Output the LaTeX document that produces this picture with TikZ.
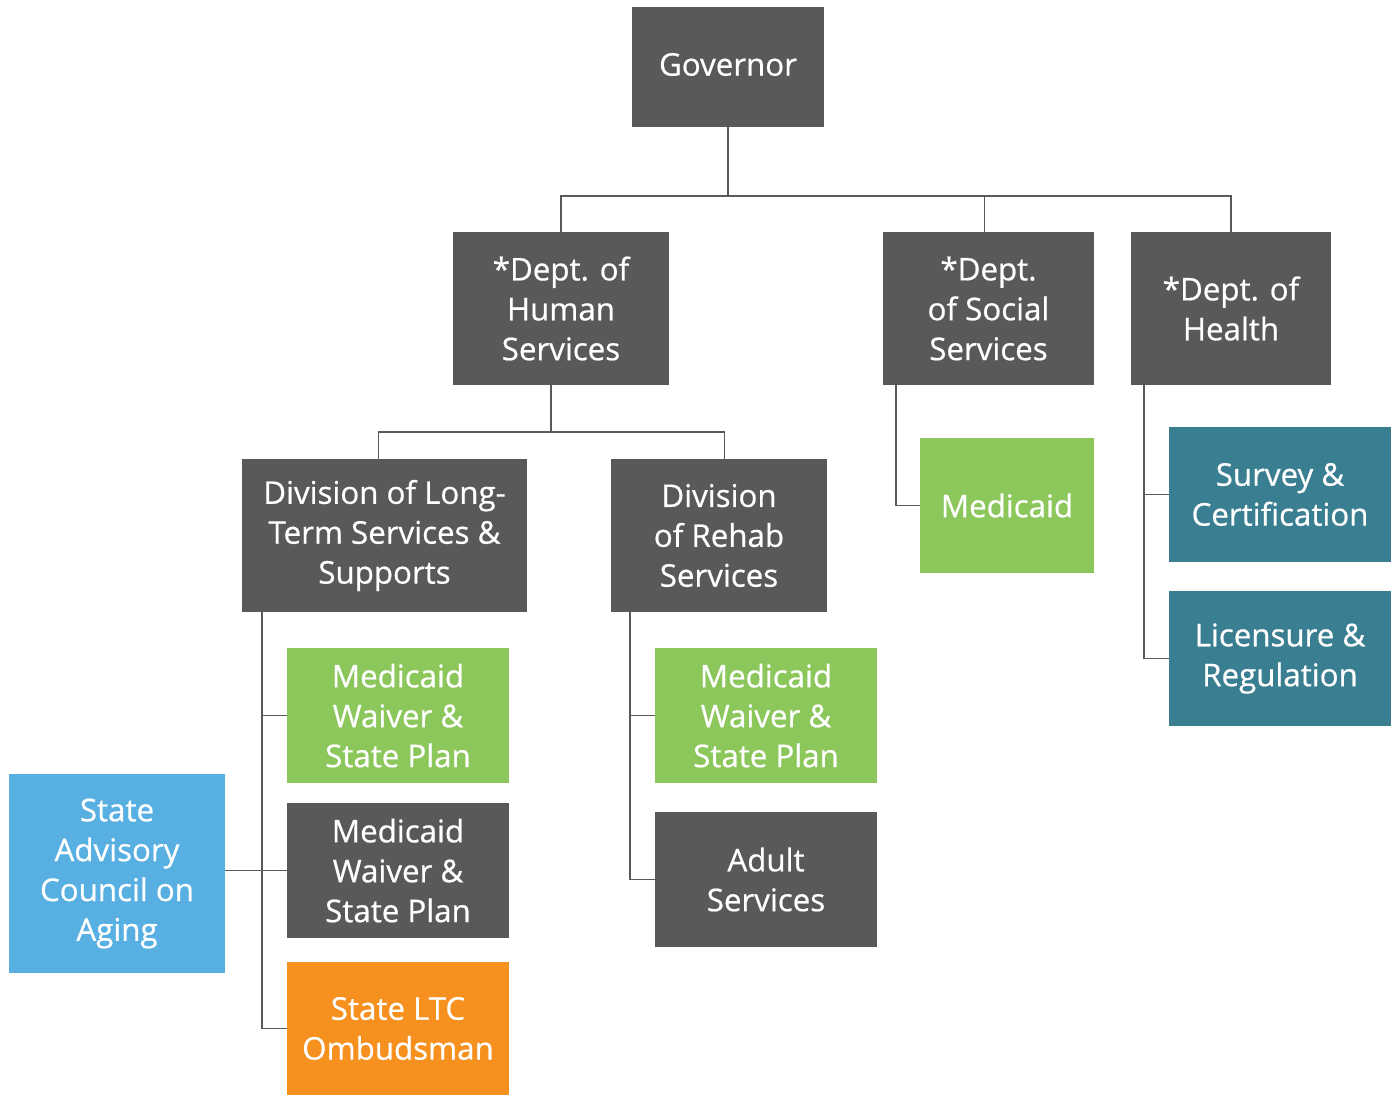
\documentclass[tikz,border=0pt]{standalone}
\usepackage{fontspec}
\setmainfont{Open Sans}[FakeBold=0.6]
\usetikzlibrary{positioning}
\definecolor{boxgray}{HTML}{58595B}
\definecolor{boxgreen}{HTML}{8BC75A}
\definecolor{boxteal}{HTML}{3A7F91}
\definecolor{boxblue}{HTML}{58B0E2}
\definecolor{boxorange}{HTML}{F6901E}
\tikzset{
  org/.style={rectangle, text=white, align=center, inner sep=0pt,
    font=\fontsize{17.8}{22.7}\selectfont},
  wide/.style={minimum width=4.44cm, minimum height=2.7cm},
  link/.style={draw=boxgray, line width=0.7pt}
}
\begin{document}
\begin{tikzpicture}[x=0.02cm, y=-0.02cm]
            \useasboundingbox (0,0) rectangle (1393,1095);
            % top levels
            \node[org, fill=boxgray, minimum width=3.84cm, minimum height=2.4cm] (gov) at (728,67) {\raisebox{3pt}{Governor}};
            \node[org, fill=boxgray, minimum width=4.32cm, minimum height=3.06cm] (dhs) at (561,308.5) {*Dept. of\\Human\\Services};
            \node[org, fill=boxgray, minimum width=4.22cm, minimum height=3.06cm] (dss) at (988.5,308.5) {*Dept.\\of Social\\Services};
            \node[org, fill=boxgray, minimum width=4.0cm, minimum height=3.06cm] (doh) at (1231,308.5) {*Dept. of\\Health};
            
            % divisions
            \node[org, fill=boxgray, minimum width=5.7cm, minimum height=3.06cm] (ltss) at (384.5,535.5) {Division of Long-\\Term Services \&\\Supports};
            \node[org, fill=boxgray, minimum width=4.32cm, minimum height=3.06cm] (rehab) at (719,535.5) {Division\\of Rehab\\Services};
            \node[org, fill=boxgreen, minimum width=3.48cm, minimum height=2.7cm] (medicaid) at (1007,505.5) {Medicaid};
            \node[org, wide, fill=boxteal] (survey) at (1280,494.5) {Survey \&\\Certification};
            \node[org, wide, fill=boxteal] (licens) at (1280,658.5) {Licensure \&\\Regulation};
            
            % programs
            \node[org, wide, fill=boxgreen] (mwa) at (398,715.5) {Medicaid\\Waiver \&\\State Plan};
            \node[org, wide, fill=boxgray] (mwb) at (398,870.5) {Medicaid\\Waiver \&\\State Plan};
            \node[org, wide, fill=boxorange, minimum height=2.66cm] (omb) at (398,1028.5) {State LTC\\Ombudsman};
            \node[org, fill=boxblue, minimum width=4.32cm, minimum height=3.98cm] (sac) at (117,873.5) {State\\Advisory\\Council on\\Aging};
            \node[org, wide, fill=boxgreen] (mwc) at (766,715.5) {Medicaid\\Waiver \&\\State Plan};
            \node[org, wide, fill=boxgray] (adult) at (766,879.5) {Adult\\Services};
            
            % buses
            \coordinate (gbus) at (728,196);
            \coordinate (hbus) at (551,432);
            \coordinate (lbus) at (262,612);
            \coordinate (rbus) at (630,612);
            \coordinate (sbus) at (896,385);
            \coordinate (dbus) at (1144,385);
            
            \draw[link] (gov.south) -- (gbus);
            \draw[link] (dhs.north) |- (gbus) -| (doh.north);
            \draw[link] (gbus) -| ([xshift=-2.5]dss.north);
            \draw[link] (dhs.south -| hbus) -- (hbus);
            \draw[link] ([xshift=-3.5]ltss.north) |- (hbus) -| ([xshift=3]rehab.north);
            \draw[link] (lbus) |- (mwa.west);
            \draw[link] (lbus) |- (mwb.west);
            \draw[link] (lbus) |- (omb.west);
            \draw[link] (sac.east |- mwb.west) -- (mwb.west);
            \draw[link] (rbus) |- (mwc.west);
            \draw[link] (rbus) |- (adult.west);
            \draw[link] (sbus) |- (medicaid.west);
            \draw[link] (dbus) |- (survey.west);
            \draw[link] (dbus) |- (licens.west);
        \end{tikzpicture}
\end{document}
